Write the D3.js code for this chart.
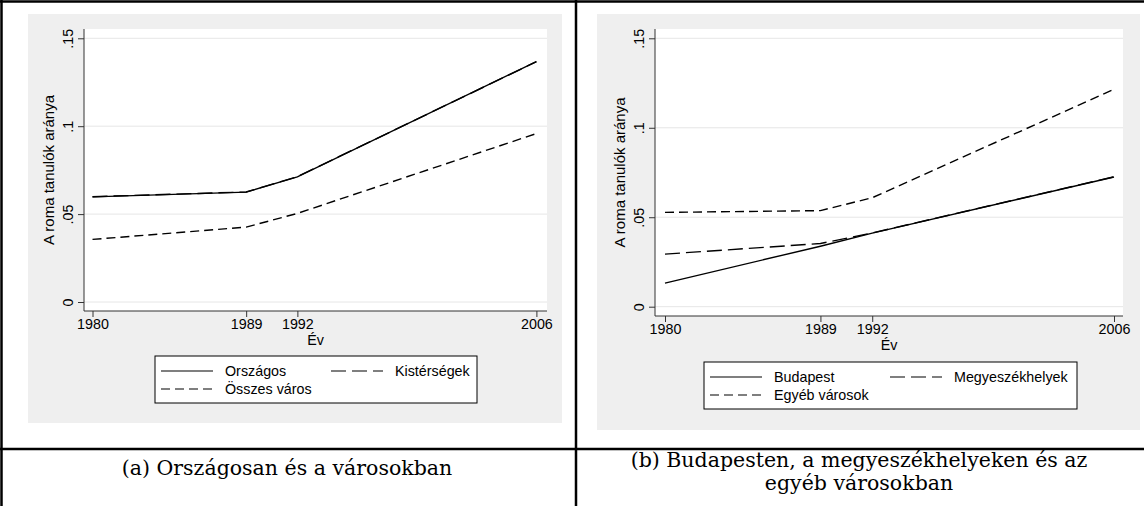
<!DOCTYPE html>
<html><head><meta charset="utf-8">
<script src="https://cdn.jsdelivr.net/npm/d3@7"></script>
<style>
body{margin:0;background:#fff}
svg{display:block}
text{font-family:"Liberation Sans",Arial,sans-serif;fill:#000}
</style>
</head><body>
<svg id="c" width="1144" height="506"></svg>
<script>
// ---------- DATA ----------
const years = [1980, 1989, 1992, 2006];
const yTicks = [0, 0.05, 0.1, 0.15];
const yTickLabels = ["0", ".05", ".1", ".15"];
const yTitle = "A roma tanulók aránya";
const xTitle = "Év";

const namesA = ["Országos", "Kistérségek", "Összes város"];
const orszagos = [0.0598, 0.0625, 0.0712, 0.1368];
const kistersegek = [0.0599, 0.0626, 0.0713, 0.1367];
const osszesVaros = [0.0356, 0.0426, 0.0504, 0.0958];

const namesB = ["Budapest", "Megyeszékhelyek", "Egyéb városok"];
const budapest = [0.0132, 0.0338, 0.0411, 0.0725];
const megyeszekhelyek = [0.0294, 0.0353, 0.0412, 0.0726];
const egyebVarosok = [0.0527, 0.0537, 0.0609, 0.1215];

const captionA = ["(a) Országosan és a városokban"];
const captionB = ["(b) Budapesten, a megyeszékhelyeken és az", "egyéb városokban"];

// ---------- STYLE ----------
const dashes = ["none", "15,6", "9,5"];
const SANS = "'Liberation Sans', Arial, sans-serif";
const FS = 14.3;

const svg = d3.select("#c");

function panel(cfg, names, series) {
  const g = svg.append("g");
  g.append("rect").attr("x", cfg.gx).attr("y", cfg.gy).attr("width", cfg.gw).attr("height", cfg.gh).attr("fill", "#efefef");
  g.append("rect").attr("x", cfg.x0).attr("y", cfg.y0).attr("width", cfg.x1 - cfg.x0).attr("height", cfg.y1 - cfg.y0).attr("fill", "#fff");

  const x = d3.scaleLinear().domain([1980, 2006]).range(cfg.xr);
  const y = d3.scaleLinear().domain([0, 0.15]).range(cfg.yr);

  // grid
  g.selectAll("line.grid").data(yTicks).join("line")
    .attr("x1", cfg.x0).attr("x2", cfg.x1)
    .attr("y1", d => y(d)).attr("y2", d => y(d))
    .attr("stroke", "#e6e6e6").attr("stroke-width", 1);

  // y axis
  const ya = g.append("g").attr("transform", `translate(${cfg.x0},0)`)
    .call(d3.axisLeft(y).tickValues(yTicks).tickFormat((d, i) => yTickLabels[i]).tickSize(6).tickSizeOuter(0));
  ya.select(".domain").remove();
  ya.selectAll(".tick line").attr("stroke", "#333");
  ya.selectAll(".tick text").attr("x", null).attr("dy", null)
    .attr("transform", "translate(-11,0) rotate(-90)")
    .attr("text-anchor", "middle").attr("font-size", FS)
    .style("font-family", SANS);
  g.append("line").attr("x1", cfg.x0).attr("x2", cfg.x0).attr("y1", cfg.y0).attr("y2", cfg.y1)
    .attr("stroke", "#333").attr("stroke-width", 1);

  // x axis
  const xa = g.append("g").attr("transform", `translate(0,${cfg.y1})`)
    .call(d3.axisBottom(x).tickValues(years).tickFormat(d3.format("d")).tickSize(6).tickSizeOuter(0));
  xa.select(".domain").remove();
  xa.selectAll(".tick line").attr("stroke", "#333");
  xa.selectAll(".tick text").attr("y", 8).attr("font-size", FS)
    .style("font-family", SANS);
  g.append("line").attr("x1", cfg.x0).attr("x2", cfg.x1).attr("y1", cfg.y1).attr("y2", cfg.y1)
    .attr("stroke", "#333").attr("stroke-width", 1);

  // titles
  g.append("text").attr("x", (cfg.x0 + cfg.x1) / 2).attr("y", cfg.y1 + 34)
    .attr("text-anchor", "middle").attr("font-size", FS).style("font-family", SANS).text(xTitle);
  g.append("text").attr("transform", `translate(${cfg.x0 - 30},${(cfg.y0 + cfg.y1) / 2}) rotate(-90)`)
    .attr("text-anchor", "middle").attr("font-size", 15).style("font-family", SANS).text(yTitle);

  // lines
  const line = d3.line().x((d, i) => x(years[i])).y(d => y(d));
  series.forEach((s, k) => {
    g.append("path").attr("d", line(s)).attr("fill", "none")
      .attr("stroke", "#000").attr("stroke-width", 1.4)
      .attr("stroke-dasharray", dashes[k]);
  });

  // legend
  const L = cfg.leg;
  g.append("rect").attr("x", L.x).attr("y", L.y).attr("width", L.w).attr("height", L.h)
    .attr("fill", "#fff").attr("stroke", "#000").attr("stroke-width", 1);
  const pos = [[0, 0], [1, 0], [0, 1]];
  names.forEach((n, k) => {
    const kx = L.x + 6 + pos[k][0] * L.col2;
    const ky = L.y + 15 + pos[k][1] * 18;
    g.append("line").attr("x1", kx).attr("x2", kx + 52).attr("y1", ky).attr("y2", ky)
      .attr("stroke", "#000").attr("stroke-width", 1.2).attr("stroke-dasharray", dashes[k]);
    g.append("text").attr("x", kx + 64).attr("y", ky + 5).attr("font-size", FS)
      .style("font-family", SANS).text(n);
  });
}

panel({
  gx: 28, gy: 14, gw: 534, gh: 409,
  x0: 84, x1: 547, y0: 29, y1: 311,
  xr: [92.5, 536.4], yr: [302, 38.3],
  leg: { x: 155, y: 356, w: 322, h: 47, col2: 170 }
}, namesA, [orszagos, kistersegek, osszesVaros]);

panel({
  gx: 597, gy: 14, gw: 543, gh: 416,
  x0: 655, x1: 1123, y0: 29, y1: 316,
  xr: [665, 1114], yr: [306.7, 38.3],
  leg: { x: 704, y: 362, w: 373, h: 47, col2: 180 }
}, namesB, [budapest, megyeszekhelyek, egyebVarosok]);

// table borders
const bw = 2.5;
svg.append("line").attr("x1", 0).attr("x2", 1144).attr("y1", 1.5).attr("y2", 1.5).attr("stroke", "#000").attr("stroke-width", bw);
svg.append("line").attr("x1", 0).attr("x2", 1144).attr("y1", 449).attr("y2", 449).attr("stroke", "#000").attr("stroke-width", bw);
svg.append("line").attr("x1", 1.5).attr("x2", 1.5).attr("y1", 0).attr("y2", 506).attr("stroke", "#000").attr("stroke-width", bw);
svg.append("line").attr("x1", 576).attr("x2", 576).attr("y1", 0).attr("y2", 506).attr("stroke", "#000").attr("stroke-width", bw);

// captions
const capStyle = t => t.attr("text-anchor", "middle").attr("font-size", 20.5)
  .style("font-family", "'DejaVu Serif', 'Liberation Serif', serif");
svg.append("text").attr("x", 287).attr("y", 475).text(captionA[0]).call(capStyle);
captionB.forEach((c, i) => {
  svg.append("text").attr("x", 859).attr("y", 467 + i * 23).text(c).call(capStyle);
});
</script>
</body></html>
